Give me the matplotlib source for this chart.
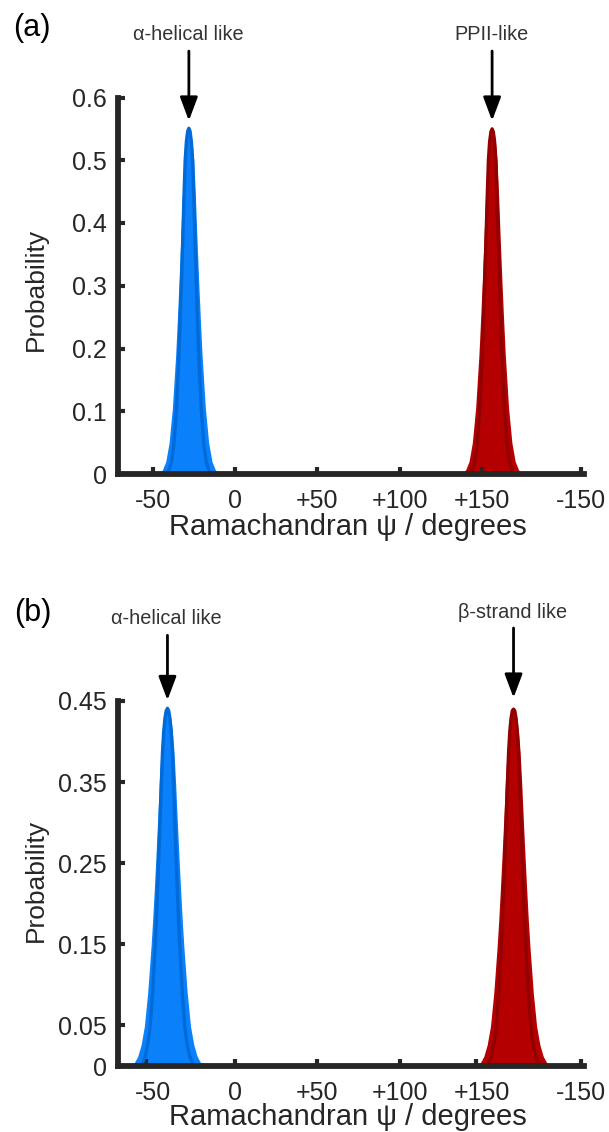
import numpy as np
import matplotlib.pyplot as plt

plt.rcParams['font.family'] = ['Liberation Sans', 'DejaVu Sans']

# panel (a): psi grid and probability for each peak
psi_helix_a = [-46, -44, -42, -40, -38, -36, -35, -34, -33, -32, -31, -30, -29, -28,
               -27, -26, -25, -24, -23, -22, -21, -20, -18, -16, -14, -12, -10]
p_helix_a = [0, 0.007, 0.02, 0.05, 0.105, 0.19, 0.245, 0.305, 0.37, 0.44, 0.50, 0.53, 0.546, 0.551,
             0.546, 0.53, 0.50, 0.44, 0.37, 0.305, 0.245, 0.19, 0.105, 0.05, 0.02, 0.007, 0]
psi_ppii_a = [138, 140, 142, 144, 146, 148, 149, 150, 151, 152, 153, 154, 155, 156,
              157, 158, 159, 160, 161, 162, 163, 164, 166, 168, 170, 172, 174]
p_ppii_a = [0, 0.007, 0.02, 0.05, 0.105, 0.19, 0.245, 0.305, 0.37, 0.44, 0.50, 0.53, 0.545, 0.55,
            0.545, 0.53, 0.50, 0.44, 0.37, 0.305, 0.245, 0.19, 0.105, 0.05, 0.02, 0.007, 0]

# panel (b)
psi_helix_b = [-63, -61, -59, -57, -55, -53, -51, -50, -49, -48, -47, -46, -45, -44, -43, -42, -41,
               -40, -39, -38, -37, -36, -35, -34, -33, -32, -31, -29, -27, -25, -23, -21, -19]
p_helix_b = [0, 0.0045, 0.012, 0.026, 0.049, 0.090, 0.146, 0.179, 0.217, 0.258, 0.301, 0.347, 0.387,
             0.413, 0.429, 0.438, 0.441,
             0.438, 0.429, 0.413, 0.387, 0.347, 0.301, 0.258, 0.217, 0.179, 0.146, 0.090, 0.049,
             0.026, 0.012, 0.0045, 0]
psi_strand_b = [147, 149, 151, 153, 155, 157, 159, 160, 161, 162, 163, 164, 165, 166, 167, 168, 169,
                170, 171, 172, 173, 174, 175, 176, 177, 178, 179, 181, 183, 185, 187, 189, 191]
p_strand_b = [0, 0.0045, 0.012, 0.026, 0.049, 0.090, 0.146, 0.179, 0.217, 0.258, 0.301, 0.347, 0.387,
              0.413, 0.429, 0.438, 0.44,
              0.438, 0.429, 0.413, 0.387, 0.347, 0.301, 0.258, 0.217, 0.179, 0.146, 0.090, 0.049,
              0.026, 0.012, 0.0045, 0]

xtick_pos = [-50, 0, 50, 100, 150, 210]
xtick_labels = ['-50', '0', '+50', '+100', '+150', '-150']
xmarks_a = [-50, 0, 50, 100, 150, 210]
xmarks_b = [-54, 0, 50, 100, 146, 210]
yticks_a = [0, 0.1, 0.2, 0.3, 0.4, 0.5, 0.6]
ylabels_a = ['0', '0.1', '0.2', '0.3', '0.4', '0.5', '0.6']
yticks_b = [0, 0.05, 0.15, 0.25, 0.35, 0.45]
ylabels_b = ['0', '0.05', '0.15', '0.25', '0.35', '0.45']

BLUE, BLUE_DK = '#0a80fa', '#006ad8'
RED, RED_DK = '#b40000', '#920000'
INK = '#262626'

W, H = 609, 1132
fig = plt.figure(figsize=(W / 100, H / 100), dpi=100)


def draw_peak(ax, psi, p, fill, edge):
    psi = np.array(psi, dtype=float)
    p = np.array(p)
    c = psi[np.argmax(p)]
    ax.fill_between(psi, p, color=fill, lw=0)
    ax.plot(c + 0.75 * (psi - c), p, color=edge, lw=2.4, solid_capstyle='butt')
    return c


def style_axes(ax, ymax, yticks, ylabels, xmarks):
    ax.set_xlim(-71, 212)
    ax.set_ylim(0, ymax)
    for s in ['top', 'right']:
        ax.spines[s].set_visible(False)
    for s in ['left', 'bottom']:
        ax.spines[s].set_linewidth(4.2)
        ax.spines[s].set_color(INK)
    ax.xaxis.remove_overlapping_locs = False
    ax.set_xticks(xtick_pos)
    ax.set_xticklabels(xtick_labels)
    ax.set_xticks(xmarks, minor=True)
    ax.tick_params(axis='x', which='major', length=0, pad=11, labelsize=18, labelcolor=INK)
    ax.tick_params(axis='x', which='minor', direction='in', length=5, width=3, color=INK)
    ax.set_yticks(yticks)
    ax.set_yticklabels(ylabels)
    ax.tick_params(axis='y', direction='in', length=5, width=3, color=INK, pad=8,
                   labelsize=18, labelcolor=INK)


def fx(px):
    return px / W


def fy(py):
    return 1 - py / H


# ---- panel (a)
ax1 = fig.add_axes([fx(118), fy(474), fx(584.4) - fx(118), fy(97.5) - fy(474)])
c1 = draw_peak(ax1, psi_helix_a, p_helix_a, BLUE, BLUE_DK)
c2 = draw_peak(ax1, psi_ppii_a, p_ppii_a, RED, RED_DK)
style_axes(ax1, 0.6, yticks_a, ylabels_a, xmarks_a)

arrow = dict(arrowstyle='-|>,head_length=0.72,head_width=0.27', mutation_scale=20,
             lw=2.0, color='black', shrinkA=0, shrinkB=0)
ax1.annotate('', xy=(c1, 0.563), xytext=(c1, 0.674), arrowprops=arrow, annotation_clip=False)
ax1.annotate('', xy=(c2, 0.563), xytext=(c2, 0.674), arrowprops=arrow, annotation_clip=False)
fig.text(fx(188), fy(35), 'α-helical like', ha='center', va='center', fontsize=14.3, color='#333333')
fig.text(fx(491.5), fy(35), 'PPII-like', ha='center', va='center', fontsize=14.3, color='#333333')
fig.text(fx(32), fy(28), '(a)', ha='center', va='center', fontsize=22, color='black')
fig.text(fx(36), fy(289), 'Probability', ha='center', va='center', rotation=90, fontsize=19, color=INK)
fig.text(fx(348), fy(527), 'Ramachandran ψ / degrees', ha='center', va='center', fontsize=21, color=INK)

# ---- panel (b)
ax2 = fig.add_axes([fx(118), fy(1066), fx(584.4) - fx(118), fy(701) - fy(1066)])
c3 = draw_peak(ax2, psi_helix_b, p_helix_b, BLUE, BLUE_DK)
c4 = draw_peak(ax2, psi_strand_b, p_strand_b, RED, RED_DK)
style_axes(ax2, 0.45, yticks_b, ylabels_b, xmarks_b)

ax2.annotate('', xy=(c3, 0.451), xytext=(c3, 0.531), arrowprops=arrow, annotation_clip=False)
ax2.annotate('', xy=(c4, 0.454), xytext=(c4, 0.540), arrowprops=arrow, annotation_clip=False)
fig.text(fx(166.5), fy(618), 'α-helical like', ha='center', va='center', fontsize=14.3, color='#333333')
fig.text(fx(512.5), fy(613), 'β-strand like', ha='center', va='center', fontsize=14.3, color='#333333')
fig.text(fx(33), fy(613), '(b)', ha='center', va='center', fontsize=22, color='black')
fig.text(fx(36), fy(880), 'Probability', ha='center', va='center', rotation=90, fontsize=19, color=INK)
fig.text(fx(348), fy(1117), 'Ramachandran ψ / degrees', ha='center', va='center', fontsize=21, color=INK)

fig.savefig('out.png', dpi=100)
